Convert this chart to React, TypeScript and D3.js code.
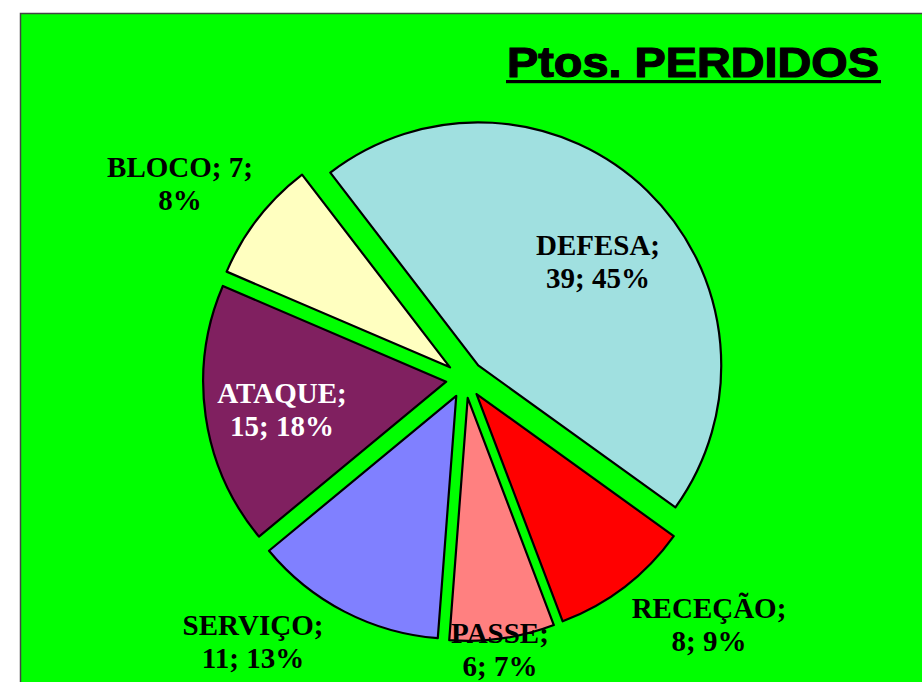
import React, { useEffect, useRef } from 'react';
import * as d3 from 'd3';

// data
const categories = ['DEFESA', 'RECEÇÃO', 'PASSE', 'SERVIÇO', 'ATAQUE', 'BLOCO'];
const values = [39, 8, 6, 11, 15, 7];
const percentLabels = ['45%', '9%', '7%', '13%', '18%', '8%'];
const sliceColors = ['#A0E0E0', '#FF0000', '#FF8080', '#8080FF', '#802060', '#FFFFC0'];
const labelColors = ['#000', '#000', '#000', '#000', '#fff', '#000'];

// label text lines: Excel wraps "BLOCO; 7;" differently from the others
const labelLines = categories.map((c, i) =>
  c === 'BLOCO'
    ? [`${c}; ${values[i]};`, percentLabels[i]]
    : [`${c};`, `${values[i]}; ${percentLabels[i]}`]
);

// where Excel placed each label (first baseline, centred)
const labelAnchors: [number, number][] = [
  [598, 255],
  [709, 618],
  [500, 643],
  [253, 635],
  [282, 403],
  [180, 177],
];

const W = 922;
const H = 682;

export default function App() {
  const ref = useRef<SVGSVGElement>(null);

  useEffect(() => {
    const svg = d3.select(ref.current);
    svg.selectAll('*').remove();

    // chart area
    svg.append('rect')
      .attr('x', 20.5).attr('y', 13.5)
      .attr('width', W).attr('height', H)
      .attr('fill', '#00FF00')
      .attr('stroke', '#444').attr('stroke-width', 1.5);

    // title
    const title = svg.append('g');
    title.append('text')
      .text('Ptos. PERDIDOS')
      .attr('x', 507).attr('y', 76.5)
      .attr('font-family', '"Liberation Sans", Arial, sans-serif')
      .attr('font-weight', 'bold')
      .attr('font-size', 43)
      .attr('textLength', 372)
      .attr('lengthAdjust', 'spacingAndGlyphs')
      .attr('fill', '#000')
      .attr('stroke', '#000')
      .attr('stroke-width', 1.2);
    title.append('rect')
      .attr('x', 506).attr('y', 80)
      .attr('width', 375).attr('height', 3.2)
      .attr('fill', '#000');

    // pie
    const cx = 465, cy = 379;
    const radius = 243;
    const explode = 19;
    const start = (-37.5 * Math.PI) / 180;

    const pie = d3.pie<number>()
      .sort(null)
      .startAngle(start)
      .endAngle(start + 2 * Math.PI);
    const arcs = pie(values);
    const arc = d3.arc<d3.PieArcDatum<number>>().innerRadius(0).outerRadius(radius);

    const plot = svg.append('g').attr('transform', `translate(${cx},${cy})`);
    plot.selectAll('path')
      .data(arcs)
      .enter()
      .append('path')
      .attr('d', arc)
      .attr('transform', (d) => {
        const mid = (d.startAngle + d.endAngle) / 2;
        return `translate(${explode * Math.sin(mid)},${-explode * Math.cos(mid)})`;
      })
      .attr('fill', (d, i) => sliceColors[i])
      .attr('stroke', '#000')
      .attr('stroke-width', 2.2)
      .attr('stroke-linejoin', 'round');

    // data labels
    const labels = svg.append('g')
      .attr('font-family', '"Liberation Serif", "Times New Roman", serif')
      .attr('font-weight', 'bold')
      .attr('font-size', 29)
      .attr('text-anchor', 'middle');
    labelLines.forEach((lines, i) => {
      const t = labels.append('text')
        .attr('x', labelAnchors[i][0])
        .attr('y', labelAnchors[i][1])
        .attr('fill', labelColors[i]);
      lines.forEach((line, j) => {
        t.append('tspan')
          .attr('x', labelAnchors[i][0])
          .attr('dy', j === 0 ? 0 : 33)
          .text(line);
      });
    });
  }, []);

  return (
    <svg
      ref={ref}
      width={W}
      height={H}
      style={{ position: 'absolute', left: 0, top: 0, background: '#fff' }}
    />
  );
}
